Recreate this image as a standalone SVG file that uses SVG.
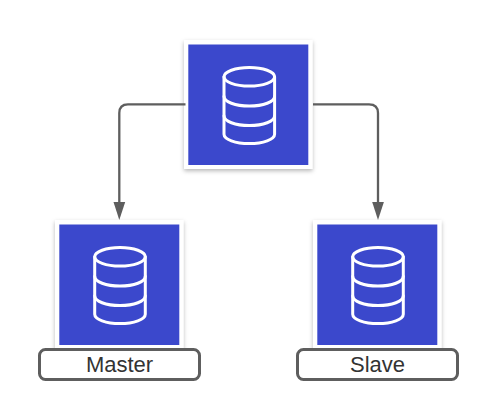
<svg xmlns="http://www.w3.org/2000/svg" width="498" height="420" viewBox="0 0 498 420">
<style>
.frame{fill:#fff;filter:url(#sh)}
.blue{fill:#3b48cc}
.db{fill:none;stroke:#fff;stroke-width:3;stroke-linecap:round;stroke-linejoin:round}
.lab{fill:#fff;stroke:#5e5e5e;stroke-width:3}
.txt{font-family:"Liberation Sans",Arial,sans-serif;font-size:22px;fill:#333;text-anchor:middle}
.edge{fill:none;stroke:#5e5e5e;stroke-width:2.300}
.head{fill:#5e5e5e}
</style>
<defs>
<filter id="sh" x="-10%" y="-10%" width="120%" height="120%"><feDropShadow dx="0" dy="2" stdDeviation="2" flood-color="#000" flood-opacity="0.28"/></filter>
<g id="cyl" class="db">
<ellipse cx="0" cy="0" rx="25.3" ry="9.3"/>
<path d="M-25.3 0V57.5C-25.3 62.5-14 66.8 0 66.8S25.3 62.5 25.3 57.5V0"/>
<path d="M-25.3 19.5C-25.3 25-14 29.3 0 29.3S25.3 25 25.3 19.5"/>
<path d="M-25.3 39C-25.3 44.5-14 48.8 0 48.8S25.3 44.5 25.3 39"/>
</g>
</defs>
<g id="node-top">
<rect class="frame" x="184" y="40" width="128.500" height="129"/>
<rect class="blue" x="188.300" y="44.500" width="120" height="120.500"/>
<use href="#cyl" x="249.300" y="76.800"/>
</g>
<g id="node-master">
<rect class="frame" x="55" y="220" width="128.500" height="129"/>
<rect class="blue" x="59.300" y="224.500" width="120" height="120.500"/>
<use href="#cyl" x="120" y="256.800"/>
</g>
<g id="node-slave">
<rect class="frame" x="313" y="220" width="128.500" height="129"/>
<rect class="blue" x="317.300" y="224.500" width="120" height="120.500"/>
<use href="#cyl" x="378" y="256.800"/>
</g>
<g id="label-master">
<rect class="lab" x="39.500" y="349.500" width="160" height="30" rx="6"/>
<text class="txt" x="119.500" y="372">Master</text>
</g>
<g id="label-slave">
<rect class="lab" x="297.500" y="349.500" width="160" height="30" rx="6"/>
<text class="txt" x="377.500" y="372">Slave</text>
</g>
<g id="connectors">
<path class="edge" d="M185.500 104.300H128Q119.300 104.300 119.300 113V204"/>
<path class="head" d="M113.500 202H125.200L119.300 220Z"/>
<path class="edge" d="M313 104.300H369Q378 104.300 378 113V204"/>
<path class="head" d="M372.200 202H383.900L378 220Z"/>
</g>
</svg>
